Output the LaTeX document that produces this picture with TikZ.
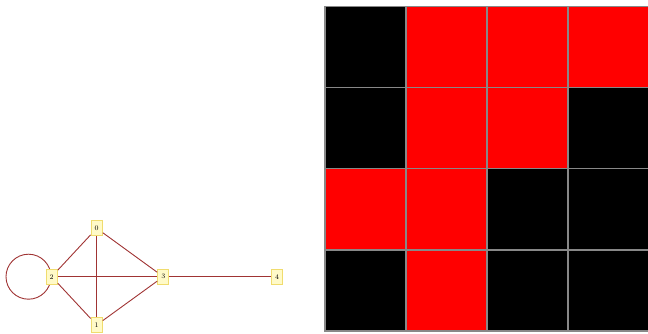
\documentclass[tikz,border=0pt]{standalone}
\usepackage{tikz}

\definecolor{edgered}{RGB}{160,52,52}
\definecolor{vtxfill}{RGB}{255,250,200}
\definecolor{vtxline}{RGB}{240,220,110}
\definecolor{cellred}{RGB}{255,0,0}
\definecolor{cellgray}{RGB}{136,136,136}

\tikzset{
  vertex/.style={rectangle,draw=vtxline,fill=vtxfill,line width=1.2pt,
    minimum width=11pt,minimum height=15pt,inner sep=0pt,
    font=\fontsize{7}{8}\selectfont},
  link/.style={draw=edgered,line width=0.9pt},
  cell/.style={draw=cellgray,line width=1.6pt}
}

\begin{document}
\begin{tikzpicture}[x=1pt,y=-1pt]
\useasboundingbox (0,0) rectangle (648,334);
\clip (0,0) rectangle (648,334);

% Self loop on vertex 2 (drawn first, behind the vertex)
\coordinate (c2) at (28.5,276.7);
\draw[link] (c2) circle (22.5);

% Graph vertices
\node[vertex] (n0) at (96.7,228.3) {0};
\node[vertex] (n1) at (96.7,325) {1};
\node[vertex] (n2) at (51.7,276.7) {2};
\node[vertex] (n3) at (163.3,276.7) {3};
\node[vertex] (n4) at (277,276.7) {4};

% Graph edges
\draw[link] (n0) -- (n2);
\draw[link] (n0) -- (n3);
\draw[link] (n0) -- (n1);
\draw[link] (n2) -- (n3);
\draw[link] (n2) -- (n1);
\draw[link] (n1) -- (n3);
\draw[link] (n3) -- (n4);

% Adjacency grid (rows top to bottom)
\foreach \c [count=\i from 0] in {black,cellred,cellred,cellred}
  \draw[cell,fill=\c] (324.7+81*\i,6.7) rectangle ++(81,81);
\foreach \c [count=\i from 0] in {black,cellred,cellred,black}
  \draw[cell,fill=\c] (324.7+81*\i,87.7) rectangle ++(81,81);
\foreach \c [count=\i from 0] in {cellred,cellred,black,black}
  \draw[cell,fill=\c] (324.7+81*\i,168.7) rectangle ++(81,81);
\foreach \c [count=\i from 0] in {black,cellred,black,black}
  \draw[cell,fill=\c] (324.7+81*\i,249.7) rectangle ++(81,81);

\end{tikzpicture}
\end{document}
